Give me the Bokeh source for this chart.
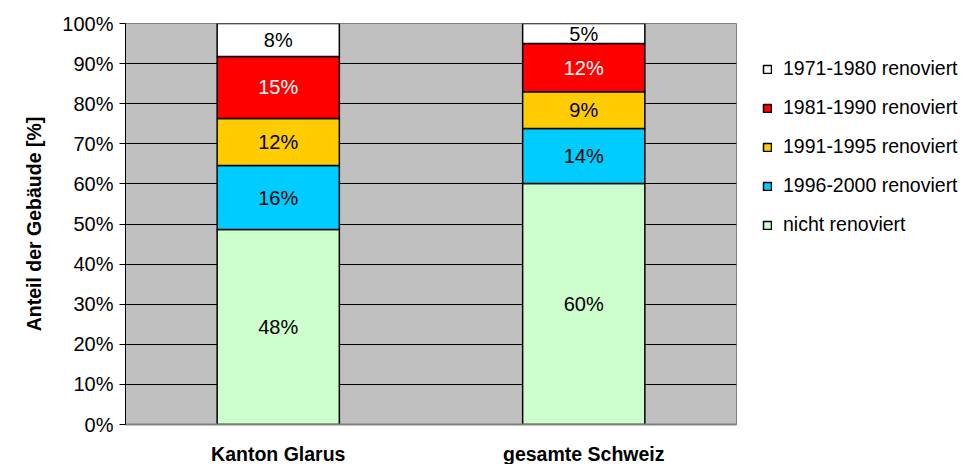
from bokeh.plotting import figure
from bokeh.models import ColumnDataSource, Legend, LegendItem, FixedTicker, FactorRange, Range1d
from bokeh.core.properties import value
from bokeh.embed import file_html
from bokeh.resources import INLINE
import numpy as np

categories = ["Kanton Glarus", "gesamte Schweiz"]
series = ["nicht renoviert", "1996-2000 renoviert", "1991-1995 renoviert",
          "1981-1990 renoviert", "1971-1980 renoviert"]
colors = ["#CCFFCC", "#00CCFF", "#FFCC00", "#FF0000", "#FFFFFF"]
label_colors = ["black", "black", "black", "white", "black"]
glarus = [48.6, 16.0, 11.7, 15.5, 8.2]
schweiz = [60.1, 13.7, 9.2, 12.0, 5.0]
glarus_labels = ["48%", "16%", "12%", "15%", "8%"]
schweiz_labels = ["60%", "14%", "9%", "12%", "5%"]
y_ticks = [0, 10, 20, 30, 40, 50, 60, 70, 80, 90, 100]
y_tick_labels = ["0%", "10%", "20%", "30%", "40%", "50%", "60%", "70%", "80%", "90%", "100%"]
y_title = "Anteil der Gebäude [%]"

FONT = "Liberation Sans"
FS = "20px"

data = {"cat": categories}
for i, s in enumerate(series):
    data[s] = [glarus[i], schweiz[i]]
src = ColumnDataSource(data)

p = figure(x_range=FactorRange(*categories), y_range=Range1d(0, 100),
           frame_width=611, frame_height=401,
           min_border_left=125, min_border_top=23, min_border_right=231, min_border_bottom=38,
           output_backend="svg", toolbar_location=None)

p.background_fill_color = "#C0C0C0"
p.border_fill_color = "white"
p.outline_line_color = "#808080"
p.outline_line_width = 1

renderers = p.vbar_stack(series, x="cat", width=0.4, fill_color=colors,
                         line_color="black", line_width=1.5, source=src)

# value labels
lx, ly, lt, lc = [], [], [], []
for vals, labs, cat in [(glarus, glarus_labels, categories[0]), (schweiz, schweiz_labels, categories[1])]:
    tops = np.cumsum(vals)
    bottoms = tops - np.array(vals)
    for i in range(len(vals)):
        lx.append(cat)
        ly.append((tops[i] + bottoms[i]) / 2)
        lt.append(labs[i])
        lc.append(label_colors[i])
lsrc = ColumnDataSource(dict(x=lx, y=ly, text=lt, color=lc))
p.text(x="x", y="y", text="text", text_color="color", source=lsrc,
       text_align="center", text_baseline="middle",
       text_font=value(FONT), text_font_size=FS)

# axes
yax = p.yaxis[0]
yax.ticker = FixedTicker(ticks=y_ticks)
yax.major_label_overrides = dict(zip(y_ticks, y_tick_labels))
yax.minor_tick_line_color = None
yax.major_tick_in = 0
yax.major_tick_out = 6
yax.major_tick_line_color = "black"
yax.axis_line_color = "black"
yax.major_label_text_font = FONT
yax.major_label_text_font_size = FS
yax.major_label_text_color = "black"
yax.major_label_standoff = 6
yax.axis_label = y_title
yax.axis_label_text_font = FONT
yax.axis_label_text_font_style = "bold"
yax.axis_label_text_font_size = "19.5px"
yax.axis_label_text_color = "black"
yax.axis_label_standoff = 14

xax = p.xaxis[0]
xax.axis_line_color = "#808080"
xax.axis_line_width = 2
xax.major_tick_line_color = None
xax.minor_tick_line_color = None
xax.major_label_text_font = FONT
xax.major_label_text_font_style = "bold"
xax.major_label_text_font_size = "19.5px"
xax.major_label_text_color = "black"
xax.major_label_standoff = 12

p.xgrid.grid_line_color = None
p.ygrid.ticker = FixedTicker(ticks=y_ticks)
p.ygrid.grid_line_color = "black"
p.ygrid.grid_line_width = 1

items = [LegendItem(label=series[i], renderers=[renderers[i]]) for i in reversed(range(len(series)))]
legend = Legend(items=items, location="top_left", border_line_color=None,
                background_fill_alpha=0, label_text_font=FONT, label_text_font_size="19.5px",
                label_text_color="black",
                glyph_width=10, glyph_height=10, label_height=39, spacing=0,
                padding=0, margin=26, label_standoff=11)
p.add_layout(legend, "right")

open("out.html", "w").write(file_html(p, INLINE))
